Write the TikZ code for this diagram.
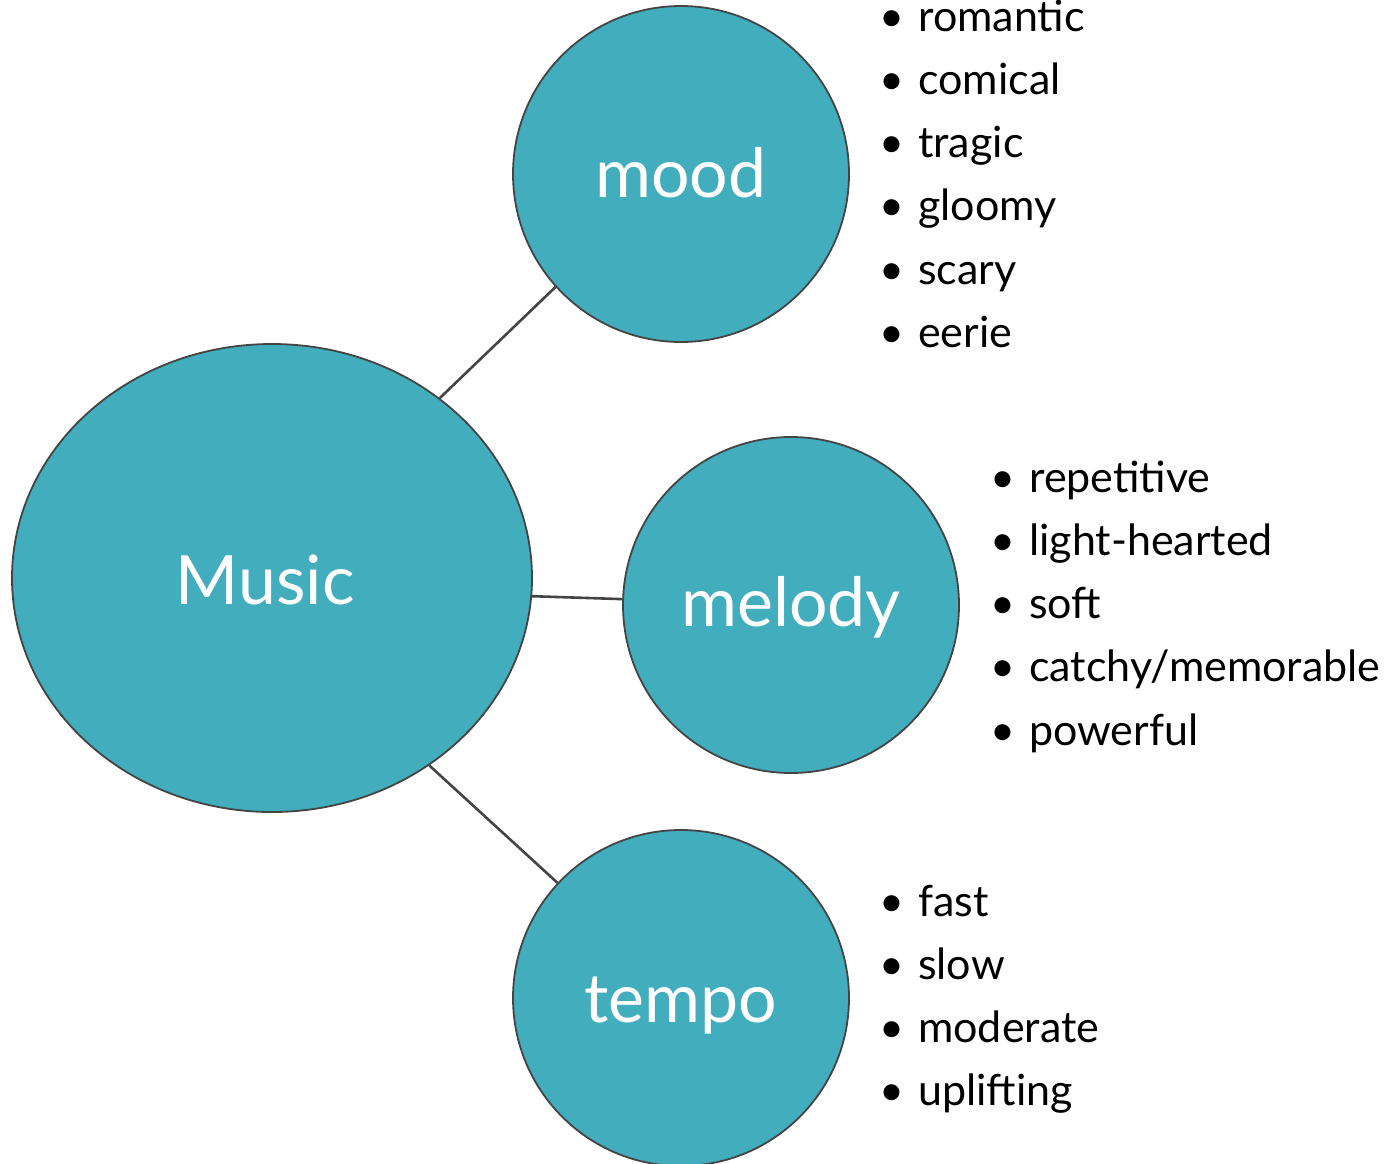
\documentclass[tikz,border=0pt]{standalone}
\usepackage{fontspec}
\setmainfont{Lato}
\usetikzlibrary{shapes.geometric}
\definecolor{teal}{HTML}{41ADBD}
\definecolor{edge}{HTML}{444444}
\tikzset{
  bubble/.style={circle, fill=teal, draw=edge, line width=1.8pt, minimum size=336pt, inner sep=0pt},
  bigbubble/.style={ellipse, fill=teal, draw=edge, line width=1.8pt, minimum width=520pt, minimum height=468pt, inner sep=0pt},
  lbl/.style={anchor=base, text=white, font=\fontsize{68}{80}\selectfont, inner sep=0pt},
  item/.style={anchor=base west, font=\fontsize{43}{50}\selectfont, inner sep=0pt, text=black},
  conn/.style={draw=edge, line width=2.6pt}
}
\newcommand{\bul}[1]{\llap{\textbullet\hspace{14pt}}#1}
\begin{document}
\begin{tikzpicture}[x=1pt,y=-1pt]
\useasboundingbox (0,0) rectangle (1393,1163);
\node[bigbubble] (music) at (272,578) {};
\node[bubble] (mood) at (681,174) {};
\node[bubble] (melody) at (791,605) {};
\node[bubble] (tempo) at (681,998) {};
\draw[conn] (music.47.3) -- (mood.222.6);
\draw[conn] (music.-4) -- (melody.178.3);
\draw[conn] (music.-50.3) -- (tempo.137.4);
\node[lbl] (tmusic) at (265,604) {Music};
\node[lbl] (tmood) at (681,197) {mood};
\node[lbl] (tmelody) at (791,626) {melody};
\node[lbl] (ttempo) at (681,1022) {tempo};
% mood list
\node[item] (m1) at (918,31) {\bul{romantic}};
\node[item] (m2) at (918,94.3) {\bul{comical}};
\node[item] (m3) at (918,157.6) {\bul{tragic}};
\node[item] (m4) at (918,220.9) {\bul{gloomy}};
\node[item] (m5) at (918,284.2) {\bul{scary}};
\node[item] (m6) at (918,347.5) {\bul{eerie}};
% melody list
\node[item] (l1) at (1029,492) {\bul{repetitive}};
\node[item] (l2) at (1029,555.3) {\bul{light-hearted}};
\node[item] (l3) at (1029,618.6) {\bul{soft}};
\node[item] (l4) at (1029,681.9) {\bul{catchy/memorable}};
\node[item] (l5) at (1029,745.2) {\bul{powerful}};
% tempo list
\node[item] (t1) at (918,916) {\bul{fast}};
\node[item] (t2) at (918,979.3) {\bul{slow}};
\node[item] (t3) at (918,1042.6) {\bul{moderate}};
\node[item] (t4) at (918,1105.9) {\bul{uplifting}};
\end{tikzpicture}
\end{document}
